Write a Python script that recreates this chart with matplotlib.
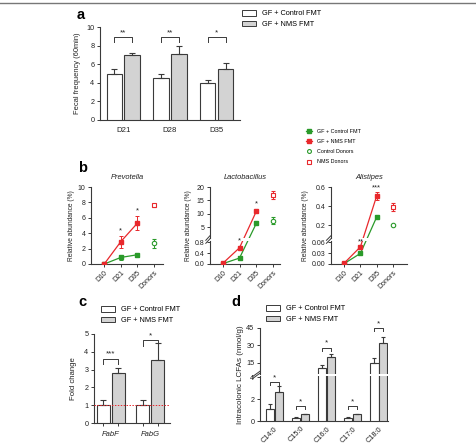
import numpy as np
import matplotlib
matplotlib.use("Agg")
import matplotlib.pyplot as plt
from matplotlib.lines import Line2D
from matplotlib.patches import Patch

plt.rcParams['font.family'] = ['Liberation Sans', 'DejaVu Sans']
plt.rcParams['axes.linewidth'] = 0.8

W, H = 477, 446
fig = plt.figure(figsize=(W / 100, H / 100), dpi=100)

GREEN = '#2a9a2a'
RED = '#e8282c'
BAR_FILL = '#d3d3d3'
EDGE = '#3a3a3a'
TXT = '#222222'

# ---------------- data ----------------
# panel a
a_days = ['D21', 'D28', 'D35']
a_ctrl = [5.0, 4.5, 4.0]
a_ctrl_err = [0.5, 0.4, 0.35]
a_nms = [7.0, 7.15, 5.5]
a_nms_err = [0.2, 0.8, 0.6]
a_sig = ['**', '**', '*']

# panel b
b_x = ['D10', 'D21', 'D35', 'Donors']
prev_ctrl = [0.0, 0.85, 1.2]
prev_ctrl_err = [0.05, 0.3, 0.25]
prev_nms = [0.0, 2.9, 5.3]
prev_nms_err = [0.05, 0.8, 0.9]
prev_don_ctrl, prev_don_ctrl_err = 2.7, 0.6
prev_don_nms, prev_don_nms_err = 7.6, 0.25
prev_sig = ['', '*', '*']

lact_ctrl = [0.01, 0.22, 6.5]
lact_ctrl_err = [0.01, 0.08, 0.8]
lact_nms = [0.02, 0.6, 11.0]
lact_nms_err = [0.01, 0.08, 0.6]
lact_don_ctrl, lact_don_ctrl_err = 7.5, 1.3
lact_don_nms, lact_don_nms_err = 17.0, 1.5
lact_sig = ['', '*', '*']

ali_ctrl = [0.001, 0.029, 0.29]
ali_ctrl_err = [0.001, 0.004, 0.02]
ali_nms = [0.002, 0.047, 0.51]
ali_nms_err = [0.001, 0.003, 0.04]
ali_don_ctrl, ali_don_ctrl_err = 0.2, 0.01
ali_don_nms, ali_don_nms_err = 0.39, 0.04
ali_sig = ['', '**', '***']

# panel c
c_genes = ['FabF', 'FabG']
c_ctrl = [1.0, 1.0]
c_ctrl_err = [0.3, 0.27]
c_nms = [2.8, 3.55]
c_nms_err = [0.27, 0.95]
c_sig = ['***', '*']

# panel d
d_lcfa = ['C14:0', 'C15:0', 'C16:0', 'C17:0', 'C18:0']
d_ctrl = [1.05, 0.3, 10.0, 0.28, 14.5]
d_ctrl_err = [0.5, 0.03, 2.5, 0.07, 4.0]
d_nms = [2.65, 0.6, 19.5, 0.6, 32.0]
d_nms_err = [0.5, 0.08, 3.0, 0.08, 5.0]
d_sig = ['*', '*', '*', '*', '*']

# ---------------- helpers ----------------
def px_axes(x0, y0, x1, y1):
    return fig.add_axes([x0 / W, 1 - y1 / H, (x1 - x0) / W, (y1 - y0) / H])


def broken_scale(lo_top, hi_bot, hi_top, f_lo, f_gap):
    f_hi = 1 - f_lo - f_gap

    def fwd(y):
        y = np.asarray(y, dtype=float)
        return np.where(
            y <= lo_top, y / lo_top * f_lo,
            np.where(y < hi_bot,
                     f_lo + (y - lo_top) / (hi_bot - lo_top) * f_gap,
                     f_lo + f_gap + (y - hi_bot) / (hi_top - hi_bot) * f_hi))

    def inv(v):
        v = np.asarray(v, dtype=float)
        return np.where(
            v <= f_lo, v / f_lo * lo_top,
            np.where(v < f_lo + f_gap,
                     lo_top + (v - f_lo) / f_gap * (hi_bot - lo_top),
                     hi_bot + (v - f_lo - f_gap) / f_hi * (hi_top - hi_bot)))
    return fwd, inv


def apply_break(ax, lo_top, hi_bot, hi_top, f_lo, f_gap):
    fwd, inv = broken_scale(lo_top, hi_bot, hi_top, f_lo, f_gap)
    ax.set_yscale('function', functions=(fwd, inv))
    ax.set_ylim(0, hi_top)
    ax.spines['left'].set_visible(False)
    ax.axhspan(lo_top, hi_bot, color='white', zorder=6, lw=0)
    tr = ax.transAxes
    kw = dict(transform=tr, color=EDGE, lw=0.8, clip_on=False, zorder=8)
    ax.add_line(Line2D([0, 0], [0, f_lo], **kw))
    ax.add_line(Line2D([0, 0], [f_lo + f_gap, 1], **kw))
    d = 0.03
    for yy in (f_lo, f_lo + f_gap):
        ax.add_line(Line2D([-0.06, 0.0], [yy - d, yy + d], transform=tr,
                           color=EDGE, lw=0.7, clip_on=False, zorder=8))


def style_ax(ax, ls=5.2):
    ax.spines['top'].set_visible(False)
    ax.spines['right'].set_visible(False)
    for s in ax.spines.values():
        s.set_color(EDGE)
    ax.tick_params(axis='both', colors=EDGE, labelcolor=TXT, labelsize=ls,
                   length=2.5, width=0.7, pad=1.5)


def bracket(ax, x1, x2, ytop, yleg, text, star_dy):
    ax.plot([x1, x1, x2, x2], [yleg, ytop, ytop, yleg], color=EDGE, lw=0.7,
            zorder=9, clip_on=False)
    ax.text((x1 + x2) / 2, ytop + star_dy, text, ha='center', va='bottom',
            fontsize=5.8, color=TXT, zorder=9, clip_on=False)


def bar_pair(ax, xs, ctrl, ctrl_err, nms, nms_err, off, width, cap):
    xs = np.asarray(xs, dtype=float)
    ax.bar(xs - off, ctrl, width, color='white', edgecolor=EDGE, lw=0.8, zorder=3)
    ax.bar(xs + off, nms, width, color=BAR_FILL, edgecolor=EDGE, lw=0.8, zorder=3)
    ax.errorbar(xs - off, ctrl, yerr=[np.zeros(len(ctrl)), ctrl_err], fmt='none',
                ecolor=EDGE, elinewidth=0.8, capsize=cap, capthick=0.8, zorder=4)
    ax.errorbar(xs + off, nms, yerr=[np.zeros(len(nms)), nms_err], fmt='none',
                ecolor=EDGE, elinewidth=0.8, capsize=cap, capthick=0.8, zorder=4)


bar_handles = [Patch(facecolor='white', edgecolor=EDGE, lw=0.7),
               Patch(facecolor=BAR_FILL, edgecolor=EDGE, lw=0.7)]
bar_labels = ['GF + Control FMT', 'GF + NMS FMT']


def bar_legend(x_px, y_px):
    fig.legend(bar_handles, bar_labels, loc='upper left',
               bbox_to_anchor=(x_px / W, 1 - y_px / H), frameon=False,
               fontsize=5.3, handlelength=1.9, handleheight=0.8,
               handletextpad=0.8, labelspacing=0.45, borderpad=0,
               borderaxespad=0)

# ---------------- top frame line ----------------
fig.add_artist(Line2D([0.0, 1.0], [1 - 3 / H, 1 - 3 / H], transform=fig.transFigure,
                      color='#777777', lw=1.0))

# ---------------- panel a ----------------
axa = px_axes(100, 27, 240, 120)
style_ax(axa)
xa = np.arange(len(a_days))
bar_pair(axa, xa, a_ctrl, a_ctrl_err, a_nms, a_nms_err, 0.19, 0.33, 2.4)
axa.set_xlim(-0.5, 2.5)
axa.set_ylim(0, 10)
axa.set_yticks([0, 2, 4, 6, 8, 10])
axa.set_xticks(xa)
axa.set_xticklabels(a_days, fontsize=5.6)
axa.tick_params(axis='x', length=0, pad=5)
axa.set_ylabel('Fecal frequency (60min)', fontsize=5.4, color=TXT, labelpad=4)
for i, s in enumerate(a_sig):
    bracket(axa, i - 0.19, i + 0.19, 8.95, 8.4, s, 0.05)
fig.text(77 / W, 1 - 15 / H, 'a', fontsize=10.5, fontweight='bold', va='center')
bar_legend(242, 10)

# ---------------- panel b legend ----------------
b_handles = [
    Line2D([0], [0], color=GREEN, lw=0.9, marker='s', markersize=2.3),
    Line2D([0], [0], color=RED, lw=0.9, marker='s', markersize=2.3),
    Line2D([0], [0], color=GREEN, lw=0, marker='o', markersize=2.8, mfc='none', mew=0.8),
    Line2D([0], [0], color=RED, lw=0, marker='s', markersize=2.8, mfc='none', mew=0.8),
]
b_labels = ['GF + Control FMT', 'GF + NMS FMT', 'Control Donors', 'NMS Donors']
fig.legend(b_handles, b_labels, loc='upper left',
           bbox_to_anchor=(306 / W, 1 - 129 / H), frameon=False, fontsize=3.9,
           handlelength=1.2, handletextpad=0.9, labelspacing=0.95,
           borderpad=0, borderaxespad=0)
fig.text(78 / W, 1 - 168 / H, 'b', fontsize=10.5, fontweight='bold', va='center')


def abundance_panel(box, title, ctrl, ctrl_err, nms, nms_err, dc, dce, dn, dne,
                    sig, sig_y, yticks, yticklabels, brk=None, xlim=(-0.8, 3.55)):
    ax = px_axes(*box)
    style_ax(ax, 5.0)
    if brk is not None:
        apply_break(ax, *brk)
    xs = np.arange(3)
    ax.errorbar(xs, ctrl, yerr=ctrl_err, color=GREEN, lw=0.9, marker='s',
                markersize=2.6, elinewidth=0.7, capsize=1.6, capthick=0.7, zorder=4)
    ax.errorbar(xs, nms, yerr=nms_err, color=RED, lw=0.9, marker='s',
                markersize=2.6, elinewidth=0.7, capsize=1.6, capthick=0.7, zorder=5)
    ax.errorbar([3], [dc], yerr=[dce], color=GREEN, marker='o', mfc='white',
                markersize=3.2, mew=0.8, elinewidth=0.7, capsize=1.6, capthick=0.7,
                zorder=4)
    ax.errorbar([3], [dn], yerr=[dne], color=RED, marker='s', mfc='white',
                markersize=3.4, mew=0.8, elinewidth=0.7, capsize=1.6, capthick=0.7,
                zorder=4)
    for i, s in enumerate(sig):
        if s:
            ax.text(i, sig_y[i], s, ha='center', va='bottom', fontsize=5.5,
                    color=TXT, zorder=10)
    ax.set_xlim(*xlim)
    if brk is None:
        ax.set_ylim(0, yticks[-1])
    ax.set_yticks(yticks)
    ax.set_yticklabels(yticklabels)
    ax.set_xticks(range(4))
    ax.set_xticklabels(b_x, rotation=45, ha='right', rotation_mode='anchor',
                       fontsize=5.0)
    ax.set_ylabel('Relative abundance (%)', fontsize=4.8, color=TXT, labelpad=2)
    ax.set_title(title, fontsize=5.4, style='italic', color=TXT, pad=6)
    return ax


abundance_panel((91, 187, 163, 264), 'Prevotella', prev_ctrl, prev_ctrl_err,
                prev_nms, prev_nms_err, prev_don_ctrl, prev_don_ctrl_err,
                prev_don_nms, prev_don_nms_err, prev_sig, [0, 3.9, 6.4],
                [0, 2, 4, 6, 8, 10], ['0', '2', '4', '6', '8', '10'])

abundance_panel((210, 187, 280, 264), 'Lactobacillus', lact_ctrl, lact_ctrl_err,
                lact_nms, lact_nms_err, lact_don_ctrl, lact_don_ctrl_err,
                lact_don_nms, lact_don_nms_err, lact_sig, [0, 0.72, 12.3],
                [0, 0.4, 0.8, 5, 10, 15, 20],
                ['0.0', '0.4', '0.8', '5', '10', '15', '20'],
                brk=(0.85, 1.0, 20, 23 / 77, 3 / 77), xlim=(-0.75, 3.4))

abundance_panel((331, 187, 407, 264), 'Alistipes', ali_ctrl, ali_ctrl_err,
                ali_nms, ali_nms_err, ali_don_ctrl, ali_don_ctrl_err,
                ali_don_nms, ali_don_nms_err, ali_sig, [0, 0.051, 0.55],
                [0, 0.03, 0.06, 0.2, 0.4, 0.6],
                ['0.00', '0.03', '0.06', '0.2', '0.4', '0.6'],
                brk=(0.063, 0.07, 0.6, 23 / 77, 3 / 77), xlim=(-0.8, 3.85))

# ---------------- panel c ----------------
axc = px_axes(94, 334, 170, 423)
style_ax(axc)
xc = np.arange(len(c_genes))
bar_pair(axc, xc, c_ctrl, c_ctrl_err, c_nms, c_nms_err, 0.19, 0.33, 2.2)
axc.axhline(1.0, color=RED, lw=0.7, ls=(0, (1.5, 1.5)), zorder=5)
axc.set_xlim(-0.42, 1.5)
axc.set_ylim(0, 5)
axc.set_yticks([0, 1, 2, 3, 4, 5])
axc.set_xticks([-0.19, 0.19, 0.81, 1.19])
axc.set_xticklabels([])
axc.tick_params(axis='x', length=2)
for i, g in enumerate(c_genes):
    axc.text(i, -0.45, g, ha='center', va='top', fontsize=5.5, style='italic',
             color=TXT, transform=axc.transData)
axc.set_ylabel('Fold change', fontsize=5.6, color=TXT, labelpad=5)
bracket(axc, -0.19, 0.19, 3.62, 3.3, c_sig[0], 0.05)
bracket(axc, 0.81, 1.19, 4.65, 4.35, c_sig[1], 0.05)
fig.text(78 / W, 1 - 302 / H, 'c', fontsize=10.5, fontweight='bold', va='center')
bar_legend(101, 306)

# ---------------- panel d ----------------
axd = px_axes(260, 328, 388, 421)
style_ax(axd)
apply_break(axd, 4.1, 5.0, 45, 45 / 93, 2 / 93)
xd = np.arange(len(d_lcfa))
bar_pair(axd, xd, d_ctrl, d_ctrl_err, d_nms, d_nms_err, 0.17, 0.32, 1.6)
axd.set_xlim(-0.55, 4.35)
axd.set_yticks([0, 2, 4, 15, 30, 45])
axd.set_xticks(xd)
axd.set_xticklabels(d_lcfa, rotation=45, ha='right', rotation_mode='anchor',
                    fontsize=5.3)
axd.tick_params(axis='x', length=0, pad=3)
axd.set_ylabel('Intracolonic LCFAs (nmol/g)', fontsize=5.8, color=TXT, labelpad=2)
d_br = [(3.55, 3.25), (1.4, 1.1), (28.0, 25.0), (1.4, 1.1), (45.0, 42.0)]
d_dy = [0.05, 0.05, 0.6, 0.05, 0.6]
for i, s in enumerate(d_sig):
    bracket(axd, i - 0.17, i + 0.17, d_br[i][0], d_br[i][1], s, d_dy[i])
fig.text(231 / W, 1 - 302 / H, 'd', fontsize=10.5, fontweight='bold', va='center')
bar_legend(266, 305)

fig.savefig('out.png', dpi=100)
